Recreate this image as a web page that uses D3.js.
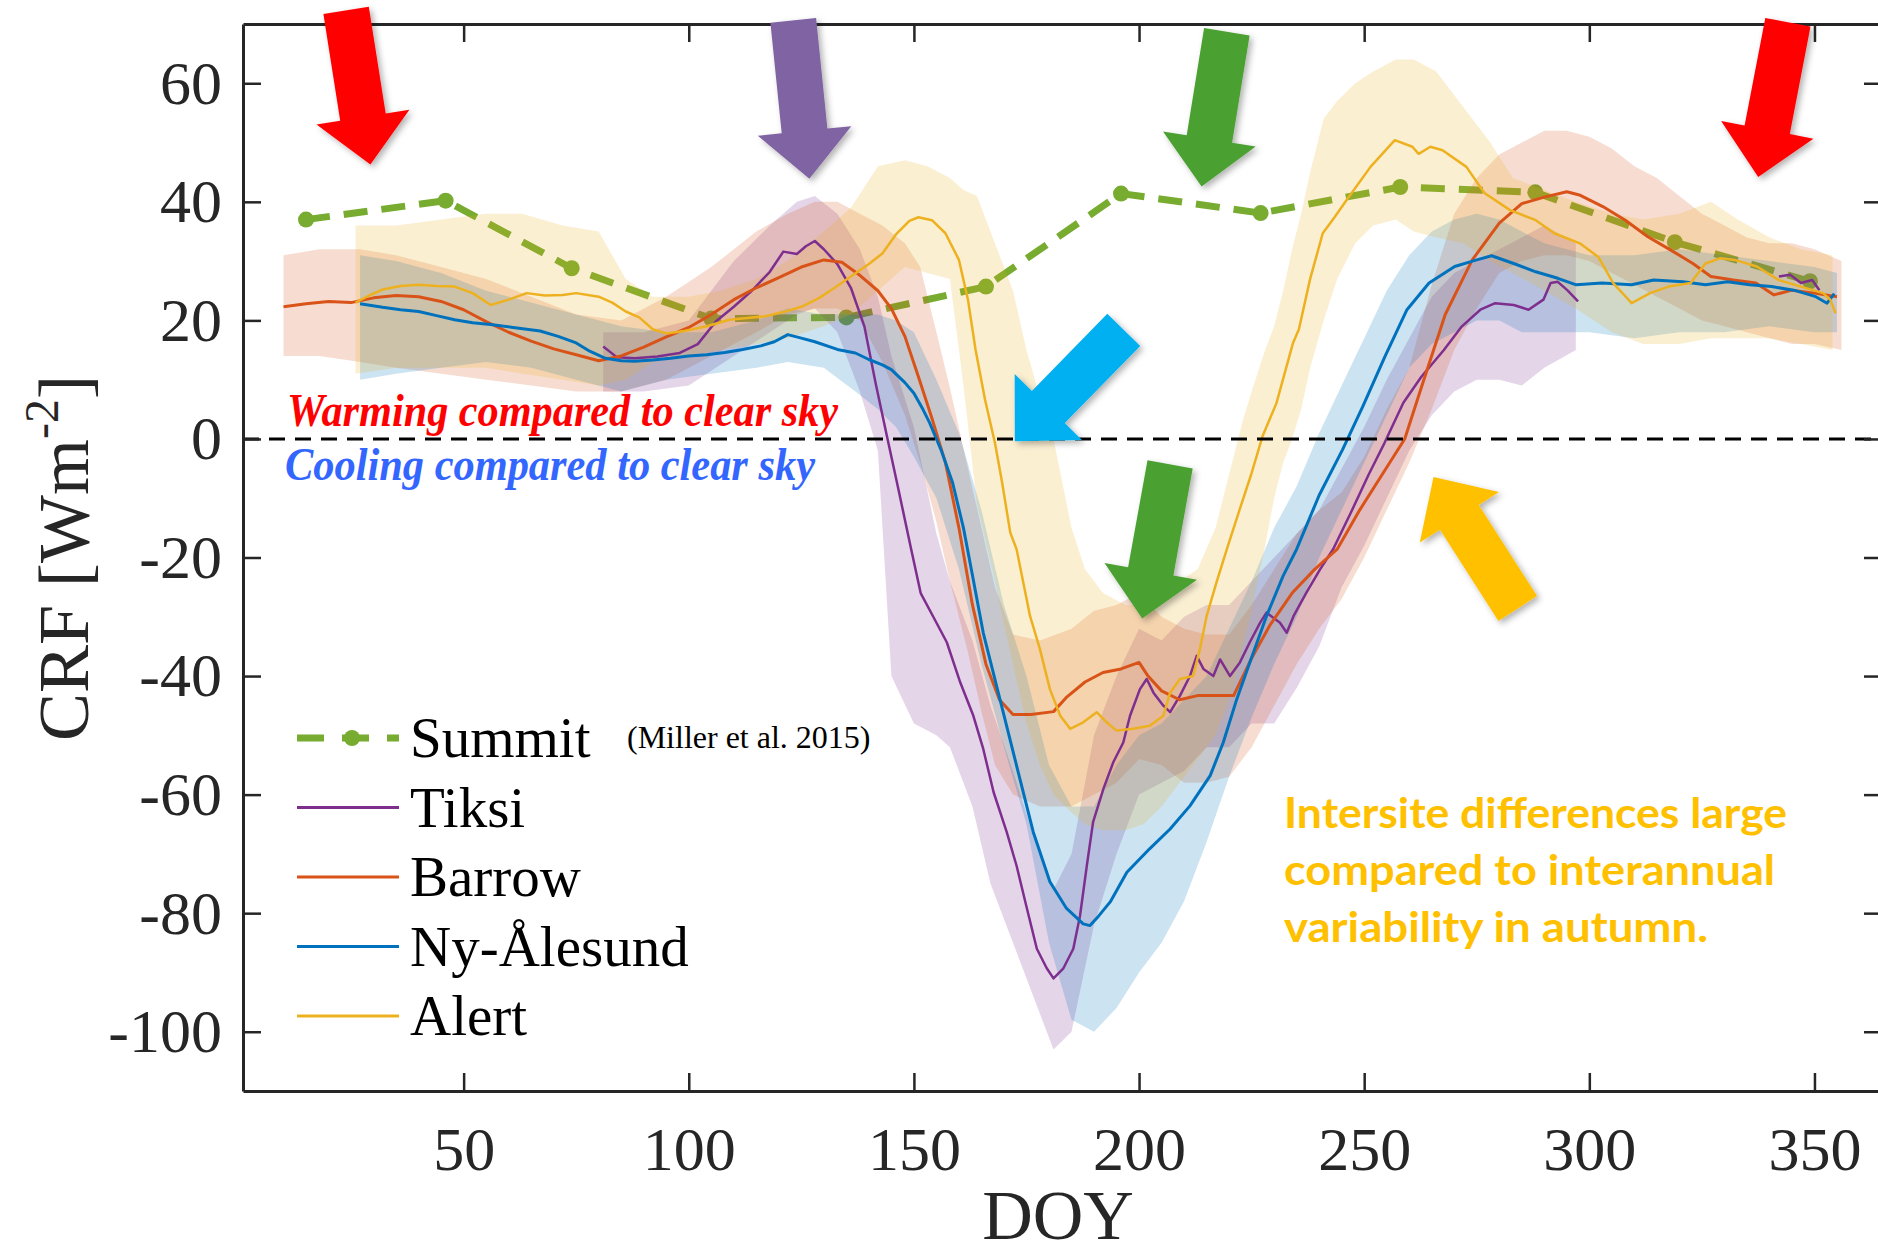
<!DOCTYPE html>
<html>
<head>
<meta charset="utf-8">
<script src="https://cdn.jsdelivr.net/npm/d3@7"></script>
<style>
  html, body { margin: 0; padding: 0; background: #fff; }
  svg { display: block; }
</style>
</head>
<body>
<svg id="chart" width="1878" height="1256"></svg>
<script>
// ---- data: [DOY, CRF] ----
const summitDoy = [15, 46, 74, 105, 135, 166, 196, 227, 258, 288, 319, 349];
const summitCrf = [37.0, 40.2, 28.8, 20.3, 20.5, 25.7, 41.4, 38.1, 42.5, 41.6, 33.2, 26.6];

const tiksi = [[81,15.6],[84,13.8],[88,13.6],[93,13.9],[98,14.5],[102,16.0],[106,19.8],[110,22.3],[114,25.0],[118,28.2],
  [121,31.6],[124,31.2],[126,32.5],[128,33.4],[130,32.0],[133,29.5],[136,25.5],[139,19.0],[141.5,9.4],[144,0.5],
  [146.7,-9],[149.5,-19],[151.5,-26],[154.3,-30],[157.3,-34.3],[160.3,-41.1],[163.2,-46.7],[165.4,-52.3],[167.7,-59.6],
  [170.6,-66.3],[172.8,-72],[175.1,-79.2],[177.3,-86],[179.5,-89.3],[181,-91],[183.2,-89.3],[185.4,-86],[186.9,-80.4],
  [188.4,-72],[189.8,-64.6],[192.1,-59],[194.3,-54.5],[196.5,-51.2],[198,-46.7],[200.2,-42.2],[201.7,-40.5],[203.2,-42.8],
  [205.4,-45],[206.9,-46.1],[209.1,-43.3],[211.3,-40],[212.8,-36.6],[214.3,-38.8],[216.5,-40],[218,-37.2],[220.2,-40],
  [222.4,-37.7],[224.6,-34.3],[226.9,-31],[228.3,-29.3],[231.3,-31],[232.8,-32.7],[234.3,-29.9],[237.2,-25.9],[240.2,-22],
  [243.1,-18.6],[247,-12.5],[251,-6],[254.5,-0.7],[258.7,6.1],[262.7,10.5],[267.7,15],[271.7,19],[275.8,21.8],[279.1,22.9],
  [283.2,22.6],[286.5,21.8],[289.8,23.5],[291.4,26.3],[293,26.5],[295.1,25.1],[297.5,23.2],[320,null],
  [342.1,27.4],[344.6,27.7],[347,26.3],[349.5,26.8],[351.1,25.1]];

const barrow = [[10,22.3],[15,22.8],[20,23.2],[25,23.0],[30,23.8],[35,24.2],[40,24.0],[45,23.2],[50,21.8],[55,19.8],
  [60,18.0],[65,16.5],[70,15.2],[75,14.2],[80,13.2],[85,14.0],[90,15.5],[95,17.2],[100,18.8],[105,21.0],[110,23.5],
  [115,25.5],[120,27.2],[125,29.0],[130,30.2],[134,29.8],[138,27.6],[142,25.0],[145,22.0],[148,17.3],[151,10.5],
  [154,3.5],[157,-4.0],[160,-15],[163,-28],[166,-38],[169,-44],[172,-46.5],[176,-46.5],[181,-46],[184,-43.5],
  [188,-41],[192,-39.4],[196,-38.8],[200,-37.7],[202,-40],[205,-42.5],[209,-44],[213,-43.3],[217,-43.3],[221,-43.3],
  [225,-37],[229,-31.5],[234,-26],[239,-22],[244,-18.6],[249,-12],[254,-6],[259,0],[263,9.4],[268,21],[274,30.2],
  [280,36.4],[285,39.7],[290,40.8],[295,41.7],[298,41.1],[303,39.2],[308,36.9],[313,34.1],[318,31.9],[323,29.6],
  [327,27.4],[332,26.8],[337,26.3],[341,24.3],[345,25.1],[350,24.6],[355,24.0]];

const nyAlesund = [[27,22.8],[32,22.2],[36,21.8],[40,21.5],[44,20.8],[48,20.1],[52,19.6],[56,19.3],[61,18.8],[67,18.2],
  [71,17.3],[75,16.2],[78,14.8],[81.5,13.6],[85,13.2],[88,13.1],[92,13.3],[96,13.6],[100,14.0],[104,14.2],[108,14.6],
  [112,15.1],[116,15.7],[119,16.4],[122,17.6],[125,17.0],[128,16.4],[133,15.1],[137,14.5],[140,13.4],[143,12.5],
  [145,11.7],[148,9.5],[150,7.7],[152,5.0],[153.5,2.7],[156,-1.8],[158.6,-7.4],[161,-15],[163,-23],[165.4,-32.7],
  [169.1,-43.9],[172.8,-55.1],[176.5,-66.3],[180.2,-74.7],[183.9,-79.2],[187.6,-81.8],[189.1,-82.1],[191,-80.5],
  [193.6,-78.1],[197.3,-73.1],[202.4,-69.1],[206.9,-65.8],[211.3,-61.9],[215.8,-56.8],[218.7,-51.2],[221.7,-43.9],
  [224.6,-37.7],[228.3,-29.9],[232,-23.1],[235,-18.6],[240,-9.5],[245.2,-1.8],[249.7,5.5],[254.6,13.9],[259.5,21.8],
  [264.4,26.3],[270.1,29.1],[275,30.2],[278.3,30.9],[283.2,29.6],[288.1,28.2],[293,27.1],[297.1,26.0],[302.8,26.3],
  [309.4,26.0],[314.3,26.8],[320.8,26.5],[325.8,26.0],[330.7,26.5],[335.6,26.0],[340.5,25.7],[345.4,25.1],[350.3,24.0],
  [352.8,22.9],[354.4,24.5]];

const alertSite = [[26,23.0],[29,24.2],[32,25.2],[36,25.8],[40,26.0],[44,25.8],[48,25.7],[52,24.6],[56,22.6],[60,23.5],
  [64,24.6],[68,24.2],[72,24.3],[75,24.6],[80,24.0],[83,23.0],[86,21.5],[89,20.5],[92,18.5],[95,17.8],[99,18.2],
  [104,19.0],[109,20.1],[113,20.4],[117,20.7],[121,21.4],[125,22.3],[129,23.8],[132,25.3],[136,27.4],[140,29.5],
  [143,31.3],[146,34.5],[149,36.8],[151,37.4],[154,36.9],[157,34.7],[160,30.2],[162,23.5],[163.7,15],[165.8,6.6],
  [168,-0.7],[169.6,-7.4],[171.4,-15.8],[172.8,-18.6],[175.8,-29.9],[178,-35.5],[180.2,-42.2],[182.5,-46.7],
  [184.7,-48.9],[187.6,-47.8],[190.6,-46.1],[192.8,-47.8],[195,-49.2],[198.7,-48.9],[202.4,-48.4],[205.4,-46.7],
  [206.9,-42.8],[209.1,-40.5],[212,-40],[213.5,-35.5],[215,-29.9],[217.2,-24.2],[219.5,-18.6],[222.3,-12],[224.9,-6],
  [227.4,0.4],[230.5,6],[234.2,16.2],[235.5,18.5],[238,27],[240.8,34.7],[243.5,37.5],[246.1,40.3],[251.4,45.9],
  [256.8,50.4],[260.7,49.3],[262.1,48.1],[264.7,49.3],[267.4,48.7],[272.7,45.9],[276.7,41.5],[282.4,38.6],[288.1,36.9],
  [292.2,34.7],[297.9,33.0],[302,30.7],[305.3,26.3],[309.4,22.9],[313.5,24.6],[317.6,25.7],[322.5,26.3],[325.8,29.6],
  [329.1,30.5],[332.3,30.2],[337.2,29.1],[342.1,26.8],[347,25.7],[351.9,24.6],[353.5,23.5],[354.7,21.2]];

// ---- interannual spread: [DOY, low, high] ----
const tiksiBand = [[81,8,18],[90,8,18],[100,9,20],[110,14,30],[118,18,36],[124,21,40],[128,22,41],[133,18,38],[138,8,32],
  [142,-2,24],[145,-40,14],[150,-48,2],[155,-50,-16],[158,-52,-24],[163,-62,-34],[167,-75,-45],[172,-85,-56],
  [177,-95,-68],[181,-103,-76],[185,-100,-70],[190,-82,-50],[195,-70,-40],[200,-60,-32],[205,-58,-34],[210,-56,-30],
  [215,-52,-28],[220,-52,-28],[225,-48,-24],[230,-48,-20],[235,-42,-16],[240,-35,-12],[245,-25,-5],[250,-18,2],
  [255,-10,10],[260,-2,17],[265,4,24],[270,8,28],[275,10,30],[280,10,32],[285,9,34],[290,12,36],[297,15,33]];

const barrowBand = [[10,14,31],[18,14,32],[27,13,32],[35,12,31],[45,11,29],[55,10,27],[65,9,24],[75,8,21],[85,8,20],
  [95,10,24],[105,14,29],[115,18,35],[122,21,38],[128,22,40],[133,22,40],[138,20,38],[143,13,36],[148,4,33],
  [151.4,-4,29],[155,-14,18],[158,-24,8.6],[162,-36,-5],[165,-46,-15],[168,-55,-25],[172,-60,-33],[178,-62,-34],
  [185,-62,-32],[190,-60,-29],[195,-58,-28],[200,-54,-26],[205,-55,-30],[210,-58,-32],[215,-58,-33],[220,-57,-33],
  [225,-52,-28],[230,-45,-22],[235,-38,-16],[240,-32,-12],[245,-27,-9],[250,-20,-3],[255,-12,5],[260,-4,12],
  [265,5,26],[270,15,38],[275,22,44],[280,28,48],[285,30,50],[290,31,52],[295,31,52],[300,30,51],[305,28,49],
  [310,26,46],[315,24,44],[320,22,41],[325,20,38],[330,19,36],[335,18,34],[340,17,33],[345,16,33],[350,16,32],[356,15,30]];

const nyAlesundBand = [[27,10,31],[35,11,30],[45,12,28],[55,13,25],[65,12,23],[75,10,21],[85,8,19],[95,10,18],[105,11,18],
  [115,12,20],[122,13,22],[130,12,21],[137,8,21],[142,5,21],[146,2,20],[150,-3,18],[155,-10,10],[160,-22,1],[165,-38,-12],
  [170,-52,-28],[175,-65,-40],[180,-85,-55],[185,-98,-62],[190,-100,-62],[195,-96,-55],[200,-90,-50],[205,-85,-48],
  [210,-78,-44],[215,-68,-40],[220,-57,-32],[225,-47,-24],[230,-38,-15],[235,-30,-8],[240,-20,1],[245,-12,9],[250,-4,17],
  [255,4,25],[260,12,31],[265,16,35],[270,18,37],[275,20,38],[280,20,37],[285,18,35],[290,18,33],[295,18,32],
  [300,18,31],[310,17,31],[320,18,32],[330,18,31],[340,19,30],[350,18,29],[355,18,28]];

const alertBand = [[26,11,36],[35,12,36],[45,12,37],[55,12,38],[63,11,38],[72,10,36],[80,9,35],[86,10,27],[92,13,24],
  [100,14,24],[107,15,25],[115,16,27],[122,17,30],[130,19,35],[136,21,39],[142,25,46],[148,29,47],[153,28,46],
  [158,27,44],[161,9,42],[164,-11,41],[168,-24,33],[172,-38,25],[175,-48,15],[178,-55,7],[181,-60,0],[185,-63,-15],
  [188,-65,-22],[192,-66,-26],[197,-66,-28],[201,-65,-28],[205,-62,-26],[209,-58,-24],[213,-54,-22],[217,-50,-15],
  [221,-42,-3],[223,-35,3],[225,-29,8],[228,-18,15],[230,-10,19],[232,-4,25],[234,0,32],[236,5,38],[238,12,45],
  [241,20,54],[244,27,57],[248,33,60],[252,36,62],[257,37,64],[261,35,64],[266,34,62],[272,33,56],[278,30,50],
  [283,28,44],[290,25,42],[297,22,40],[305,18,38],[312,16,37],[320,16,38],[327,17,40],[333,17,37],[340,17,34],
  [347,16,32],[354,15,31]];

const xTicks = [50, 100, 150, 200, 250, 300, 350];
const yTicks = [-100, -80, -60, -40, -20, 0, 20, 40, 60];

// arrow annotations, in data units: [tailDOY, tailCRF, tipDOY, tipCRF]
const arrowSpecs = [[23.9,72.3,29.3,46.3],[123.2,70.6,126.8,43.9],[219.5,68.7,213.9,42.6],[196.6,18.4,172.4,-0.4],
  [206.9,-4.3,200.7,-30.3],[284.1,-28.6,265.4,-6.4],[344.1,70.3,337.5,44.2]];
const arrowColors = ['#ff0000', '#8064a2', '#4ba032', '#00b0f0', '#4ba032', '#ffc000', '#ff0000'];

// ---- chart ----
const svg = d3.select('#chart');
const plotLeft = 243, plotTop = 24, plotBottom = 1091, plotRight = 1882;
const x = d3.scaleLinear().domain([1, 365]).range([plotLeft, plotRight]);
const y = d3.scaleLinear().domain([-110, 70]).range([plotBottom, plotTop]);
const serif = '"Liberation Serif", "Times New Roman", Times, serif';

const defs = svg.append('defs');
defs.append('clipPath').attr('id', 'plotClip')
    .append('rect').attr('x', plotLeft).attr('y', plotTop)
    .attr('width', plotRight - plotLeft).attr('height', plotBottom - plotTop);
const shadow = defs.append('filter').attr('id', 'shadow')
    .attr('x', '-30%').attr('y', '-30%').attr('width', '160%').attr('height', '160%');
shadow.append('feDropShadow').attr('dx', 3).attr('dy', 3).attr('stdDeviation', 3)
    .attr('flood-color', '#000').attr('flood-opacity', 0.3);

const plot = svg.append('g').attr('clip-path', 'url(#plotClip)');

const sites = [
    {name: 'Tiksi', data: tiksi, band: tiksiBand, color: '#7e2f8e', width: 2.5},
    {name: 'Barrow', data: barrow, band: barrowBand, color: '#d95319', width: 3},
    {name: 'Ny-Ålesund', data: nyAlesund, band: nyAlesundBand, color: '#0072bd', width: 3},
    {name: 'Alert', data: alertSite, band: alertBand, color: '#edb120', width: 2.5}
];

// Summit (monthly means) drawn first, under the spread
const summit = summitDoy.map((d, i) => [d, summitCrf[i]]);
const summitColor = '#77ac30';
plot.append('path')
    .datum(summit)
    .attr('d', d3.line().x(d => x(d[0])).y(d => y(d[1])))
    .attr('fill', 'none')
    .attr('stroke', summitColor)
    .attr('stroke-width', 7)
    .attr('stroke-dasharray', '24,14');
plot.selectAll('circle.summit')
    .data(summit)
    .enter().append('circle')
    .attr('class', 'summit')
    .attr('cx', d => x(d[0]))
    .attr('cy', d => y(d[1]))
    .attr('r', 8)
    .attr('fill', summitColor);

// shaded spread
const area = d3.area().x(d => x(d[0])).y0(d => y(d[1])).y1(d => y(d[2]));
sites.forEach(function (s) {
    plot.append('path')
        .datum(s.band)
        .attr('d', area)
        .attr('fill', s.color)
        .attr('fill-opacity', 0.2);
});

// site lines
const line = d3.line().defined(d => d[1] !== null).x(d => x(d[0])).y(d => y(d[1]));
sites.forEach(function (s) {
    plot.append('path')
        .datum(s.data)
        .attr('d', line)
        .attr('fill', 'none')
        .attr('stroke', s.color)
        .attr('stroke-width', s.width)
        .attr('stroke-linejoin', 'round');
});

// zero line
svg.append('line')
    .attr('x1', plotLeft).attr('x2', plotRight)
    .attr('y1', y(0)).attr('y2', y(0))
    .attr('stroke', '#000')
    .attr('stroke-width', 3)
    .attr('stroke-dasharray', '16,10');

// axes (MATLAB style: box, ticks inside)
const axisColor = '#262626';
const plain = d => String(d);   // hyphen-minus like the original

const xAxis = svg.append('g').attr('transform', `translate(0,${plotBottom})`)
    .call(d3.axisBottom(x).tickValues(xTicks).tickFormat(plain).tickSize(-18).tickSizeOuter(0));
const yAxis = svg.append('g').attr('transform', `translate(${plotLeft},0)`)
    .call(d3.axisLeft(y).tickValues(yTicks).tickFormat(plain).tickSize(-18).tickSizeOuter(0).tickPadding(21));
const topAxis = svg.append('g').attr('transform', `translate(0,${plotTop})`)
    .call(d3.axisTop(x).tickValues(xTicks).tickSize(-18).tickSizeOuter(0).tickFormat(''));
const rightAxis = svg.append('g').attr('transform', `translate(${plotRight},0)`)
    .call(d3.axisRight(y).tickValues(yTicks).tickSize(-18).tickSizeOuter(0).tickFormat(''));

xAxis.selectAll('text').attr('y', 79).attr('dy', 0);
[xAxis, yAxis].forEach(function (g) {
    g.attr('font-family', null).attr('font-size', null);
    g.selectAll('text')
        .attr('font-family', serif)
        .attr('font-size', 62)
        .attr('fill', axisColor);
});
[xAxis, yAxis, topAxis, rightAxis].forEach(function (g) {
    g.select('.domain').attr('stroke', axisColor).attr('stroke-width', 3);
    g.selectAll('.tick line').attr('stroke', axisColor).attr('stroke-width', 2.5);
});

// axis titles
svg.append('text')
    .attr('x', 1058).attr('y', 1239)
    .attr('text-anchor', 'middle')
    .attr('font-family', serif).attr('font-size', 70)
    .attr('fill', axisColor)
    .text('DOY');

const yLabel = svg.append('text')
    .attr('transform', 'translate(88,558) rotate(-90)')
    .attr('text-anchor', 'middle')
    .attr('font-family', serif).attr('font-size', 72)
    .attr('fill', axisColor);
yLabel.append('tspan').text('CRF [Wm');
yLabel.append('tspan').attr('dy', -30).attr('font-size', 48).text('-2');
yLabel.append('tspan').attr('dy', 30).text(']');

// legend
const legendRows = [
    {label: 'Summit', color: summitColor, dashed: true},
    {label: 'Tiksi', color: '#7e2f8e'},
    {label: 'Barrow', color: '#d95319'},
    {label: 'Ny-Ålesund', color: '#0072bd'},
    {label: 'Alert', color: '#edb120'}
];
const legend = svg.append('g');
legendRows.forEach(function (r, i) {
    const base = 757 + i * 69.5;
    const ly = base - 19;
    legend.append('line')
        .attr('x1', 297).attr('x2', 399).attr('y1', ly).attr('y2', ly)
        .attr('stroke', r.color)
        .attr('stroke-width', r.dashed ? 7 : 3)
        .attr('stroke-dasharray', r.dashed ? '27,18' : null);
    if (r.dashed) {
        legend.append('circle').attr('cx', 352).attr('cy', ly).attr('r', 8).attr('fill', r.color);
    }
    legend.append('text')
        .attr('x', 410).attr('y', base)
        .attr('font-family', serif).attr('font-size', 57)
        .attr('fill', '#000')
        .text(r.label);
});
svg.append('text')
    .attr('x', 627).attr('y', 748)
    .attr('font-family', serif).attr('font-size', 32)
    .attr('fill', '#000')
    .text('(Miller et al. 2015)');

// annotations
function italicNote(txt, xp, yp, width, color) {
    svg.append('text')
        .attr('x', xp).attr('y', yp)
        .attr('textLength', width).attr('lengthAdjust', 'spacingAndGlyphs')
        .attr('font-family', serif).attr('font-size', 47)
        .attr('font-style', 'italic').attr('font-weight', 'bold')
        .attr('fill', color)
        .text(txt);
}
italicNote('Warming compared to clear sky', 287, 426, 551, '#ff0000');
italicNote('Cooling compared to clear sky', 285, 480, 530, '#3366ff');

const noteLines = ['Intersite differences large', 'compared to interannual', 'variability in autumn.'];
const noteWidths = [503, 491, 424];
noteLines.forEach(function (t, i) {
    svg.append('text')
        .attr('x', 1284).attr('y', 828 + i * 57)
        .attr('textLength', noteWidths[i]).attr('lengthAdjust', 'spacingAndGlyphs')
        .attr('font-family', 'Lato, "Open Sans", sans-serif').attr('font-size', 42).attr('font-weight', 'bold')
        .attr('fill', '#ffc000')
        .text(t);
});

// block arrows
function arrowPath(a) {
    const x0 = x(a[0]), y0 = y(a[1]), x1 = x(a[2]), y1 = y(a[3]);
    const len = Math.hypot(x1 - x0, y1 - y0);
    const ux = (x1 - x0) / len, uy = (y1 - y0) / len;
    const nx = -uy, ny = ux;
    const sw = 23, hw = 47, hl = 48;
    const bx = x1 - ux * hl, by = y1 - uy * hl;
    const pts = [
        [x0 + nx * sw, y0 + ny * sw],
        [bx + nx * sw, by + ny * sw],
        [bx + nx * hw, by + ny * hw],
        [x1, y1],
        [bx - nx * hw, by - ny * hw],
        [bx - nx * sw, by - ny * sw],
        [x0 - nx * sw, y0 - ny * sw]
    ];
    return 'M' + pts.map(p => p[0].toFixed(1) + ',' + p[1].toFixed(1)).join('L') + 'Z';
}
svg.append('g').selectAll('path')
    .data(arrowSpecs)
    .enter().append('path')
    .attr('d', arrowPath)
    .attr('fill', (d, i) => arrowColors[i])
    .attr('filter', 'url(#shadow)');
</script>
</body>
</html>
